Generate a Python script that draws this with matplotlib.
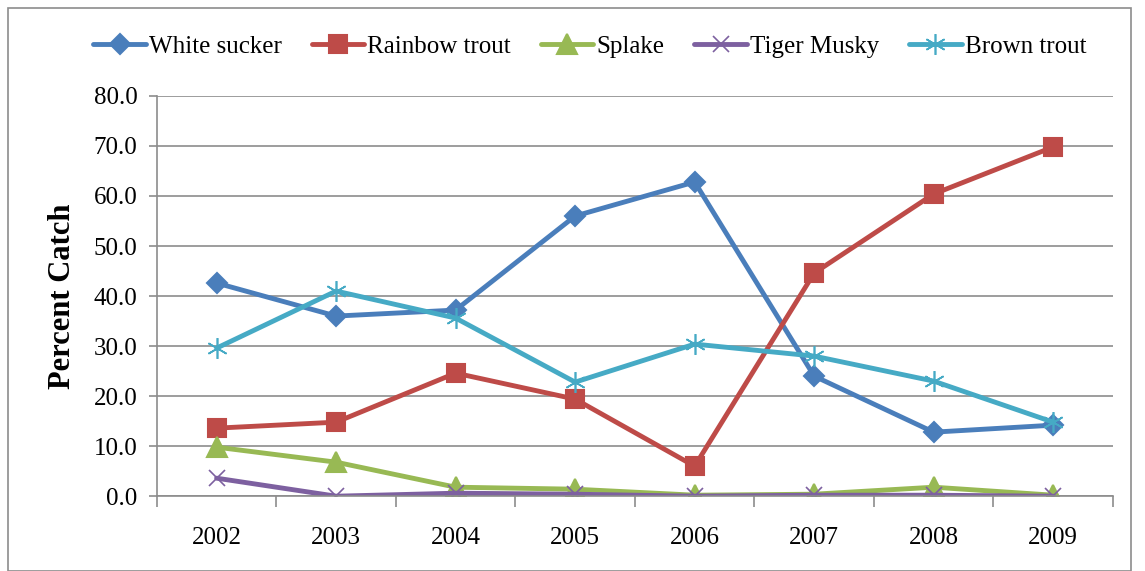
import matplotlib.pyplot as plt
import numpy as np
from matplotlib.patches import Rectangle

years = ['2002', '2003', '2004', '2005', '2006', '2007', '2008', '2009']
white_sucker = [42.6, 36.0, 37.2, 56.0, 62.8, 24.0, 12.8, 14.2]
rainbow_trout = [13.6, 14.8, 24.6, 19.4, 6.0, 44.6, 60.4, 69.8]
splake = [9.8, 6.8, 1.8, 1.4, 0.2, 0.4, 1.8, 0.2]
tiger_musky = [3.6, 0.0, 0.6, 0.4, 0.0, 0.2, 0.2, 0.0]
brown_trout = [29.6, 41.0, 35.6, 22.8, 30.4, 28.0, 23.0, 14.8]

plt.rcParams['font.family'] = ['Liberation Serif', 'DejaVu Serif']

fig = plt.figure(figsize=(11.45, 5.71), dpi=100)
fig.patches.append(Rectangle((8 / 1145, 0), 1123 / 1145, 1 - 8 / 571,
                             transform=fig.transFigure, fill=False,
                             edgecolor='#8c8c8c', lw=1.2))
ax = fig.add_axes([0.137, 0.131, 0.835, 0.701])

x = np.arange(len(years))
# name, values, colour, marker, size, edge width
series = [
    ('White sucker', white_sucker, '#4a7ebb', 'D', 10, 1.5),
    ('Rainbow trout', rainbow_trout, '#be4b48', 's', 13, 1.5),
    ('Splake', splake, '#98b954', '^', 14, 1.5),
    ('Tiger Musky', tiger_musky, '#7d60a0', 'x', 11, 1.2),
    ('Brown trout', brown_trout, '#46aac5', (6, 2, 0), 15, 1.2),
]
for name, vals, col, mk, ms, mw in series:
    ax.plot(x, vals, color=col, lw=3.5, marker=mk, ms=ms, mec=col, mfc=col,
            mew=mw, label=name, solid_capstyle='round')

ax.set_xlim(-0.5, 7.5)
ax.set_ylim(0, 80)
ax.set_yticks(np.arange(0, 81, 10))
ax.set_yticklabels(['%.1f' % v for v in np.arange(0, 81, 10)], fontsize=18)
ax.set_xticks(x)
ax.set_xticklabels(years, fontsize=18)
ax.set_xticks(np.arange(-0.5, 8, 1), minor=True)
ax.tick_params(axis='x', which='major', length=0, pad=22)
ax.tick_params(axis='x', which='minor', length=8, color='#8c8c8c', width=1.2)
ax.tick_params(axis='y', length=6, color='#8c8c8c', width=1.2, pad=8)
ax.yaxis.grid(True, color='#8c8c8c', lw=1.2)
ax.set_axisbelow(True)
for s in ['top', 'right']:
    ax.spines[s].set_visible(False)
for s in ['left', 'bottom']:
    ax.spines[s].set_color('#8c8c8c')
    ax.spines[s].set_linewidth(1.2)
ax.set_ylabel('Percent Catch', fontsize=22, fontweight='bold', labelpad=12)

fig.legend(loc='center', bbox_to_anchor=(0.515, 0.918), ncol=5, frameon=False,
           fontsize=18, handlelength=2.1, handletextpad=0.12, columnspacing=1.2)

fig.savefig('out.png', dpi=100)
